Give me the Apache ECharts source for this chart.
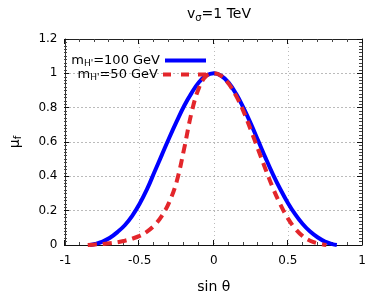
<!DOCTYPE html>
<html><head><meta charset="utf-8">
<script src="https://cdn.jsdelivr.net/npm/echarts@6/dist/echarts.min.js"></script>
<style>html,body{margin:0;padding:0;background:#fff}#c{width:374px;height:299px}</style>
</head><body><div id="c"></div>
<script>
const blueX = [-0.835,-0.8,-0.75,-0.7,-0.65,-0.6,-0.55,-0.5,-0.45,-0.4,-0.35,-0.3,-0.25,-0.2,-0.15,-0.1,-0.05,0,0.05,0.1,0.15,0.2,0.25,0.3,0.35,0.4,0.45,0.5,0.55,0.6,0.65,0.7,0.75,0.8,0.83];
const blueY = [0,0.006,0.02,0.042,0.075,0.115,0.17,0.24,0.325,0.425,0.525,0.625,0.72,0.81,0.885,0.948,0.987,1,0.986,0.946,0.882,0.80,0.707,0.607,0.506,0.41,0.323,0.245,0.178,0.122,0.078,0.045,0.02,0.005,0];
const redX = [-0.85,-0.8,-0.75,-0.7,-0.65,-0.6,-0.55,-0.5,-0.45,-0.4,-0.35,-0.3,-0.25,-0.2,-0.15,-0.1,-0.05,0,0.05,0.1,0.15,0.2,0.25,0.3,0.35,0.4,0.45,0.5,0.55,0.6,0.65,0.7,0.76];
const redY = [0,0.003,0.006,0.01,0.016,0.025,0.037,0.053,0.078,0.115,0.17,0.25,0.37,0.56,0.77,0.915,0.985,1,0.985,0.94,0.87,0.78,0.67,0.555,0.44,0.33,0.235,0.155,0.095,0.052,0.025,0.01,0];
const xTicks = {min:-1, max:1, interval:0.5};
const yTicks = {min:0, max:1.2, interval:0.2};
const seriesLabels = {m100:'100', m50:'50'};

const FONT = 'DejaVu Sans';
const G = {left:64,right:12,top:39,bottom:54};
const W = 374, H = 299;
const chart = echarts.init(document.getElementById('c'), null, {renderer:'canvas'});
const pair = (xs, ys) => xs.map((x,i)=>[x, ys[i]]);
const legendRich = {
  a:{fontFamily:FONT,fontSize:13,color:'#000'},
  s:{fontFamily:FONT,fontSize:9,color:'#000',padding:[7,0,0,0]}
};
const fmt = n => '{a|m}{s|H\'}{a|=' + seriesLabels[n] + ' GeV}';
function tickAxis(range, gridIndex, position, minorSplit) {
  return Object.assign({type:'value',gridIndex:gridIndex,position:position,
    axisLine:{show:false,onZero:false},
    axisTick:{show:true,length:5,lineStyle:{color:'#111',width:1}},
    minorTick:{show:true,splitNumber:minorSplit,length:3,lineStyle:{color:'#444',width:1}},
    axisLabel:{show:false},splitLine:{show:false},minorSplitLine:{show:false}}, range);
}
function frameAxis(range, position) {
  return Object.assign({type:'value',gridIndex:0,position:position,
    axisLine:{show:true,onZero:false,lineStyle:{color:'#222',width:1}},
    axisTick:{show:false},axisLabel:{show:false},splitLine:{show:false}}, range);
}
const hidden = g => ({type:'value',gridIndex:g,show:false,min:0,max:1,axisLine:{onZero:false}});
chart.setOption({
  animation:false,
  backgroundColor:'#fff',
  title:{text:'{a|v}{s|σ}{a|=1 TeV}',left:214,top:1,textAlign:'center',
    textStyle:{fontWeight:'normal',rich:{a:{fontFamily:FONT,fontSize:14,color:'#000',fontWeight:'normal'},s:{fontFamily:FONT,fontSize:10,color:'#000',fontWeight:'normal',padding:[7,0,0,0]}}}},
  grid:[
    G,
    {left:G.left,right:G.right,top:H-G.bottom,height:20},
    {left:G.left,right:G.right,top:G.top-20,height:20},
    {left:W-G.right,width:10,top:G.top,bottom:G.bottom},
    {left:G.left-20,width:20,top:G.top,bottom:G.bottom}
  ],
  legend:[
    {data:['m100'],orient:'vertical',right:168,top:54,align:'right',icon:'rect',itemWidth:41,itemHeight:4,formatter:fmt,textStyle:{rich:legendRich},padding:0,itemGap:0},
    {data:['m50'],orient:'vertical',right:168,top:68,align:'right',icon:'path://M0 0H8V4H0Z M18 0H26V4H18Z M35 0H43V4H35Z',itemWidth:43,itemHeight:4,formatter:fmt,textStyle:{rich:legendRich},padding:0,itemGap:0}
  ],
  xAxis:[
    Object.assign({type:'value',gridIndex:0,position:'bottom',
      axisLine:{show:true,onZero:false,lineStyle:{color:'#111',width:1}},
      axisTick:{show:false},
      name:'sin θ',nameLocation:'middle',nameGap:35,nameTextStyle:{fontFamily:FONT,fontSize:14,color:'#000'},
      axisLabel:{fontFamily:FONT,fontSize:12,color:'#000',margin:10,formatter:v=>String(v)},
      splitLine:{show:true,lineStyle:{type:[1,3],color:'#bbb',width:1}}}, xTicks),
    frameAxis(xTicks,'top'),
    tickAxis(xTicks,1,'top',5),
    tickAxis(xTicks,2,'bottom',5),
    hidden(3),
    hidden(4)
  ],
  yAxis:[
    Object.assign({type:'value',gridIndex:0,position:'left',
      axisLine:{show:true,onZero:false,lineStyle:{color:'#333',width:1}},
      axisTick:{show:false},
      name:'{a|μ}{s|f}',nameLocation:'middle',nameGap:42,nameRotate:90,
      nameTextStyle:{rich:{a:{fontFamily:FONT,fontSize:14,color:'#000'},s:{fontFamily:FONT,fontSize:10,color:'#000',padding:[7,0,0,0]}}},
      axisLabel:{fontFamily:FONT,fontSize:12,color:'#000',margin:8,formatter:v=>String(Math.round(v*10)/10)},
      splitLine:{show:true,lineStyle:{type:[1,3],color:'#777',width:1}}}, yTicks),
    frameAxis(yTicks,'right'),
    hidden(1),
    hidden(2),
    tickAxis(yTicks,3,'left',10),
    tickAxis(yTicks,4,'right',10)
  ],
  series:[
    {name:'m100',type:'line',xAxisIndex:0,yAxisIndex:0,data:pair(blueX,blueY),smooth:0.4,showSymbol:false,symbol:'none',
      lineStyle:{color:'#0000ff',width:4},itemStyle:{color:'#0000ff'},z:3},
    {name:'m50',type:'line',xAxisIndex:0,yAxisIndex:0,data:pair(redX,redY),smooth:0.4,showSymbol:false,symbol:'none',
      lineStyle:{color:'#e3262b',width:4,type:[9,6]},itemStyle:{color:'#e3262b'},z:4}
  ]
});
</script></body></html>
